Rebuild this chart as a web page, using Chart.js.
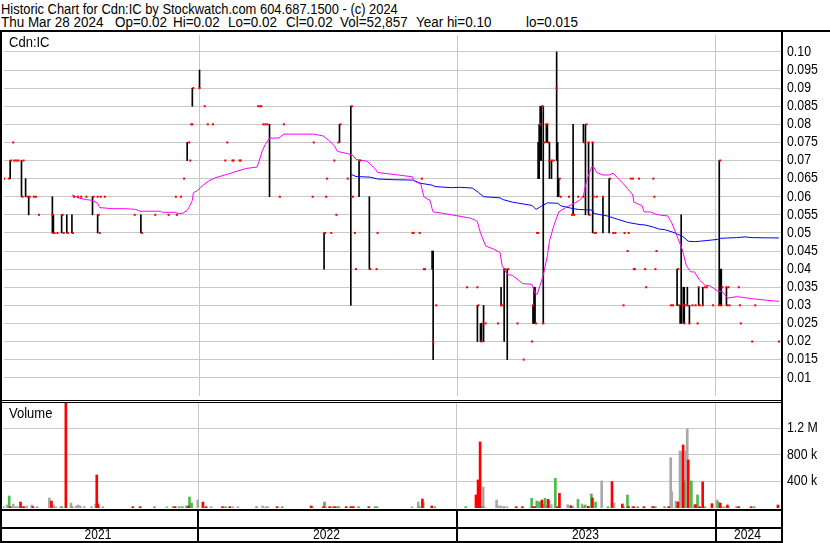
<!DOCTYPE html>
<html>
<head>
<meta charset="utf-8">
<script src="https://cdn.jsdelivr.net/npm/chart.js@4.4.1/dist/chart.umd.min.js"></script>
<style>
  body { margin: 0; background: #fff; }
  #wrap { position: relative; width: 830px; height: 543px; overflow: hidden; font-family: "Liberation Sans", Arial, sans-serif; }
  canvas { position: absolute; left: 0; }
  .txt { position: absolute; font-size: 14px; line-height: 16px; white-space: pre; color: #000; transform: scaleX(0.93); transform-origin: 0 0; }
  .ln { position: absolute; background: #000; }
</style>
</head>
<body>
<div id="wrap">
  <canvas id="price" width="830" height="369" style="top:31px"></canvas>
  <canvas id="volume" width="830" height="140" style="top:403px"></canvas>

  <div class="txt" style="left:1px;top:1px;transform:scaleX(0.922)">Historic Chart for Cdn:IC by Stockwatch.com 604.687.1500 - (c) 2024</div>
  <div class="txt" style="left:1px;top:14px;transform:scaleX(0.96)">Thu Mar 28 2024</div>
  <div class="txt" style="left:115px;top:14px;transform:scaleX(0.96)">Op=0.02</div>
  <div class="txt" style="left:173px;top:14px;transform:scaleX(0.96)">Hi=0.02</div>
  <div class="txt" style="left:228px;top:14px;transform:scaleX(0.96)">Lo=0.02</div>
  <div class="txt" style="left:286px;top:14px;transform:scaleX(0.96)">Cl=0.02</div>
  <div class="txt" style="left:340px;top:14px;transform:scaleX(0.96)">Vol=52,857</div>
  <div class="txt" style="left:416px;top:14px;transform:scaleX(0.96)">Year hi=0.10</div>
  <div class="txt" style="left:526px;top:14px;transform:scaleX(0.96)">lo=0.015</div>
  <div class="txt" style="left:9px;top:34px">Cdn:IC</div>
  <div class="txt" style="left:9px;top:405px">Volume</div>

  <div class="ln" style="left:0;top:30px;width:830px;height:2px"></div>
  <div class="ln" style="left:0;top:30px;width:2px;height:513px"></div>
  <div class="ln" style="left:781px;top:30px;width:2px;height:513px"></div>
  <div class="ln" style="left:0;top:400px;width:782px;height:1px"></div>
  <div class="ln" style="left:0;top:402px;width:782px;height:1px"></div>
</div>
<script>
// x values are trading-day numbers, 0 = first day shown (end of Mar 2021)
var yearStarts = [190, 441, 692];
var yearLabels = ['2021', '2022', '2023', '2024'];
var lastDay = 755;

var priceTicks = [0.10, 0.095, 0.09, 0.085, 0.08, 0.075, 0.07, 0.065, 0.06, 0.055, 0.05, 0.045, 0.04, 0.035, 0.03, 0.025, 0.02, 0.015, 0.01];
var priceTickLabels = ['0.10', '0.095', '0.09', '0.085', '0.08', '0.075', '0.07', '0.065', '0.06', '0.055', '0.05', '0.045', '0.04', '0.035', '0.03', '0.025', '0.02', '0.015', '0.01'];
var volTicks = [1200000, 800000, 400000];
var volTickLabels = ['1.2 M', '800 k', '400 k'];

// [day, low, high]
var hiLo = [
  [6,.065,.07],[17,.06,.07],[21,.06,.065],[24,.055,.06],[47,.05,.06],[48,.05,.055],[56,.05,.055],[61,.05,.055],
  [66,.05,.055],[86,.055,.06],[91,.05,.055],[133,.05,.055],[178,.07,.075],[183,.085,.09],[190,.09,.095],[258,.06,.08],
  [311,.04,.05],[326,.075,.08],[337,.03,.085],[345,.06,.07],[355,.04,.06],[416,.04,.045],[417,.015,.045],[460,.02,.03],
  [463,.02,.025],[464,.02,.025],[466,.02,.03],[483,.03,.035],[486,.02,.04],[489,.015,.04],[514,.025,.03],[515,.025,.035],
  [516,.025,.035],[519,.065,.075],[520,.065,.08],[521,.07,.085],[522,.07,.085],[524,.025,.085],[527,.075,.08],[528,.075,.08],
  [530,.065,.075],[532,.065,.07],[537,.07,.10],[538,.06,.075],[539,.06,.065],[553,.055,.08],[563,.075,.08],[565,.055,.08],
  [568,.055,.075],[572,.05,.075],[582,.05,.06],[588,.05,.065],[654,.03,.04],[657,.025,.03],[658,.025,.055],[660,.025,.035],
  [661,.025,.035],[664,.03,.035],[666,.025,.03],[675,.03,.035],[679,.03,.035],[695,.03,.07],[696,.03,.04],[697,.03,.04],
  [702,.03,.035]
];

// [day, close]
var closes = [
  [0,.065],[5,.065],[7,.07],[9,.075],[10,.07],[12,.07],[14,.07],[18,.06],[19,.07],[23,.06],[25,.06],[29,.06],[31,.06],
  [34,.055],[47,.055],[48,.05],[49,.05],[52,.05],[57,.055],[58,.05],[62,.05],[67,.05],[68,.06],[72,.06],[75,.06],[80,.06],
  [87,.06],[91,.06],[92,.055],[93,.05],[94,.06],[98,.06],[127,.055],[134,.05],[147,.055],[160,.055],[167,.06],[168,.055],
  [172,.06],[175,.065],[180,.075],[181,.07],[182,.08],[183,.08],[184,.09],[190,.09],[195,.085],[198,.08],[203,.08],
  [215,.07],[217,.075],[222,.07],[223,.07],[229,.07],[230,.07],[247,.085],[249,.085],[250,.085],[252,.08],[254,.08],
  [256,.08],[268,.06],[272,.08],[300,.06],[301,.075],[312,.05],[313,.06],[314,.065],[318,.05],[321,.07],[323,.055],
  [325,.075],[327,.08],[334,.065],[338,.085],[339,.06],[341,.05],[342,.04],[346,.07],[356,.04],[362,.04],[363,.05],
  [397,.05],[398,.05],[404,.05],[406,.065],[408,.04],[409,.04],[417,.02],[420,.03],[450,.035],[460,.035],[461,.03],
  [464,.02],[465,.025],[468,.025],[480,.025],[483,.03],[485,.03],[487,.04],[490,.04],[499,.025],[505,.015],[513,.02],
  [514,.03],[517,.025],[518,.05],[519,.05],[521,.08],[523,.085],[524,.025],[525,.075],[527,.08],[528,.08],[529,.075],
  [530,.07],[532,.07],[534,.07],[537,.09],[540,.065],[541,.06],[549,.06],[552,.055],[554,.055],[558,.06],[563,.06],
  [564,.075],[566,.08],[568,.075],[569,.055],[572,.075],[573,.06],[574,.05],[575,.05],[576,.06],[582,.06],[589,.065],
  [592,.05],[594,.05],[602,.03],[603,.05],[606,.045],[607,.05],[609,.065],[611,.065],[612,.04],[613,.04],[617,.065],
  [623,.04],[624,.035],[631,.065],[632,.06],[633,.04],[634,.045],[648,.03],[650,.03],[655,.04],[656,.03],[660,.03],
  [661,.025],[662,.03],[664,.03],[666,.025],[669,.03],[672,.03],[674,.025],[675,.035],[676,.03],[679,.03],[681,.035],
  [683,.035],[689,.03],[695,.03],[696,.07],[697,.03],[698,.035],[702,.035],[703,.03],[704,.035],[705,.03],[714,.035],
  [715,.03],[716,.025],[727,.02],[730,.03],[753,.02]
];

// moving averages [day, value]
var maFast = [
  [66,.0605],[73,.0596],[80,.0592],[86,.059],[91,.0582],[93,.057],[105,.0567],[118,.0567],[128,.0565],[132,.056],
  [152,.056],[154,.0557],[167,.0557],[169,.0553],[174,.0555],[178,.0562],[180,.0572],[183,.059],[184,.0611],[188,.0617],
  [191,.0626],[199,.0644],[206,.0653],[217,.0662],[227,.0671],[235,.0678],[246,.0682],[247,.069],[251,.0727],[254,.0745],
  [258,.0762],[267,.0762],[272,.0773],[301,.0773],[310,.0768],[315,.0757],[321,.0741],[324,.0725],[334,.0719],[339,.0714],
  [342,.0703],[353,.0698],[361,.0676],[363,.0667],[383,.066],[397,.0655],[398,.0644],[405,.0635],[408,.06],[414,.059],
  [416,.0567],[417,.0558],[427,.0554],[441,.0547],[453,.0541],[458,.0535],[460,.0531],[463,.05],[468,.0464],[476,.0455],
  [482,.0446],[484,.041],[489,.0385],[494,.0383],[504,.036],[513,.0358],[516,.0333],[518,.033],[521,.0356],[524,.0383],
  [528,.0437],[530,.0477],[534,.0518],[539,.0558],[547,.0572],[555,.0583],[560,.0592],[563,.0603],[566,.0644],[571,.0682],
  [573,.0682],[576,.0667],[582,.066],[588,.066],[592,.0665],[596,.0653],[602,.0635],[606,.0622],[611,.0605],[612,.0585],
  [620,.0575],[622,.0558],[628,.0558],[633,.0552],[638,.0549],[645,.0547],[649,.0527],[654,.0491],[659,.0455],[663,.041],
  [667,.0393],[671,.0392],[676,.0369],[681,.0356],[686,.0354],[693,.034],[698,.0338],[703,.032],[712,.0324],[718,.0322],
  [728,.0318],[741,.0314],[753,.0311]
];
var maSlow = [
  [337,.0662],[342,.0656],[356,.0654],[363,.0649],[378,.0647],[397,.0646],[405,.0637],[416,.0632],[419,.0628],[435,.0625],
  [443,.0626],[455,.0624],[461,.0612],[466,.06],[482,.0597],[485,.0592],[494,.0585],[513,.0576],[517,.0565],[521,.0572],
  [528,.0583],[538,.0582],[541,.0575],[553,.0567],[558,.0565],[572,.0563],[573,.0554],[586,.0547],[596,.0538],[606,.0529],
  [618,.0523],[623,.0522],[631,.0516],[636,.0511],[642,.0509],[650,.0502],[659,.0491],[665,.0477],[671,.0476],[676,.0477],
  [683,.0479],[693,.0482],[696,.0485],[703,.0486],[712,.0487],[720,.0489],[727,.0487],[753,.0486]
];

// volume [day, shares]
var volDown = [
  [7,20000],[17,90000],[20,20000],[29,20000],[47,105000],[61,1700000],[91,497000],[92,60000],[126,20000],[133,20000],
  [167,20000],[180,30000],[194,90000],[197,20000],[213,20000],[220,20000],[266,20000],[299,30000],[311,20000],[317,20000],
  [322,20000],[333,20000],[338,20000],[340,20000],[355,20000],[407,135000],[416,30000],[459,196000],[461,422000],[463,994000],
  [498,20000],[504,20000],[514,20000],[516,20000],[523,120000],[529,130000],[538,20000],[540,221000],[551,35000],[568,25000],
  [572,150000],[591,397000],[601,60000],[607,20000],[612,20000],[622,20000],[631,20000],[646,20000],[655,90000],[660,949000],
  [665,723000],[672,50000],[676,20000],[679,392000],[688,65000],[696,75000],[703,45000],[714,20000],[726,20000],[752,45000]
];
var volUp = [
  [0,20000],[6,181000],[57,20000],[67,20000],[93,20000],[147,20000],[165,20000],[171,20000],[174,20000],[178,30000],
  [181,166000],[183,75000],[216,20000],[246,20000],[271,20000],[300,20000],[312,90000],[320,20000],[324,20000],[326,20000],
  [345,20000],[361,20000],[363,20000],[404,20000],[419,20000],[449,20000],[465,20000],[486,20000],[513,146000],[518,105000],
  [521,95000],[524,55000],[526,146000],[536,447000],[558,130000],[563,20000],[565,45000],[571,211000],[575,90000],[587,20000],
  [602,20000],[606,196000],[616,20000],[630,20000],[633,20000],[642,20000],[654,20000],[661,407000],[668,407000],[674,196000],
  [681,20000],[694,90000],[697,20000],[712,20000],[729,20000]
];
var volFlat = [
  [4,45000],[10,60000],[12,20000],[14,20000],[19,20000],[23,30000],[28,45000],[33,20000],[45,150000],[49,45000],
  [51,20000],[56,20000],[66,75000],[71,30000],[73,45000],[75,30000],[79,20000],[86,20000],[90,60000],[97,20000],
  [159,20000],[189,120000],[202,20000],[223,20000],[228,20000],[252,30000],[255,20000],[257,20000],[313,20000],[337,20000],
  [397,20000],[403,90000],[408,90000],[466,316000],[467,20000],[479,120000],[481,30000],[483,30000],[489,20000],[519,85000],
  [527,40000],[530,105000],[532,50000],[548,50000],[553,25000],[562,60000],[581,407000],[593,75000],[611,20000],[648,758000],
  [649,246000],[653,100000],[657,859000],[658,834000],[663,859000],[664,1190000],[671,50000],[693,120000],[700,20000],[704,20000]
];

var FONT = '14px "Liberation Sans", Arial, sans-serif';

function pts(arr) {
    return arr.map(function (p) { return { x: p[0], y: p[1] }; });
}

function drawText(ctx, s, x, y, align, sx) {
    ctx.save();
    ctx.translate(x, y);
    ctx.scale(sx || 0.88, 1);
    ctx.textAlign = align || 'left';
    ctx.fillText(s, 0, 0);
    ctx.restore();
}

// right hand axis labels, placed with the chart's own y scale
var sideLabels = {
    id: 'sideLabels',
    afterDraw: function (chart, args, opts) {
        var ctx = chart.ctx, y = chart.scales.y, a = chart.chartArea;
        ctx.save();
        ctx.font = FONT;
        ctx.fillStyle = '#000';
        ctx.textBaseline = 'middle';
        opts.values.forEach(function (v, i) {
            drawText(ctx, opts.labels[i], a.right + 6, y.getPixelForValue(v));
        });
        ctx.restore();
    }
};

// year band under the volume panel
var yearBand = {
    id: 'yearBand',
    afterDraw: function (chart) {
        var ctx = chart.ctx, x = chart.scales.x, a = chart.chartArea;
        ctx.save();
        ctx.fillStyle = '#000';
        ctx.fillRect(0, a.bottom + 1, a.right + 1, 2);
        ctx.fillRect(0, a.bottom + 19, a.right + 1, 2);
        ctx.fillRect(0, a.bottom + 33, a.right + 1, 2);
        var edges = [0];
        yearStarts.forEach(function (s) {
            var px = Math.round(x.getPixelForValue(s - 0.5));
            ctx.fillRect(px - 1, a.bottom + 1, 2, 34);
            edges.push(px);
        });
        edges.push(a.right);
        ctx.font = FONT;
        ctx.textBaseline = 'middle';
        yearLabels.forEach(function (lab, i) {
            drawText(ctx, lab, (edges[i] + edges[i + 1]) / 2 - 1, a.bottom + 27, 'center', 0.86);
        });
        ctx.restore();
    }
};

function xAxis() {
    return {
        type: 'linear', min: 0, max: lastDay, offset: false,
        ticks: { display: false },
        border: { display: false },
        grid: { color: '#c8c8c8', drawTicks: false, offset: false },
        afterBuildTicks: function (s) { s.ticks = yearStarts.map(function (v) { return { value: v - 0.5 }; }); }
    };
}

var priceChart = new Chart(document.getElementById('price'), {
    type: 'bar',
    data: {
        datasets: [{
            type: 'scatter',
            data: pts(closes),
            pointStyle: 'rect',
            pointRadius: 1.45,
            pointBorderWidth: 0,
            backgroundColor: '#ff0000'
        }, {
            type: 'line',
            data: pts(maFast),
            borderColor: '#ff00ff',
            borderWidth: 1,
            pointRadius: 0,
            tension: 0
        }, {
            type: 'line',
            data: pts(maSlow),
            borderColor: '#0000ff',
            borderWidth: 1,
            pointRadius: 0,
            tension: 0
        }, {
            type: 'bar',
            data: hiLo.map(function (p) { return { x: p[0], y: [p[1], p[2]] }; }),
            backgroundColor: '#000000',
            barThickness: 1,
            grouped: false
        }]
    },
    options: {
        responsive: false,
        animation: false,
        events: [],
        layout: { padding: { left: 3, right: 49, top: 0, bottom: 0 } },
        plugins: {
            legend: { display: false },
            tooltip: { enabled: false },
            sideLabels: { values: priceTicks, labels: priceTickLabels }
        },
        scales: {
            x: xAxis(),
            y: {
                position: 'right', min: 0.00495, max: 0.10468,
                ticks: { display: false },
                border: { display: false },
                grid: { color: '#c8c8c8', drawTicks: false },
                afterBuildTicks: function (s) { s.ticks = priceTicks.map(function (v) { return { value: v }; }); }
            }
        }
    },
    plugins: [sideLabels]
});

var volumeChart = new Chart(document.getElementById('volume'), {
    type: 'bar',
    data: {
        datasets: [{
            data: pts(volDown), backgroundColor: '#ff0000', barThickness: 2, grouped: false
        }, {
            data: pts(volUp), backgroundColor: '#4cbb4c', barThickness: 2, grouped: false
        }, {
            data: pts(volFlat), backgroundColor: '#a8a8a8', barThickness: 2, grouped: false
        }]
    },
    options: {
        responsive: false,
        animation: false,
        events: [],
        layout: { padding: { left: 3, right: 49, top: 0, bottom: 35 } },
        plugins: {
            legend: { display: false },
            tooltip: { enabled: false },
            sideLabels: { values: volTicks, labels: volTickLabels }
        },
        scales: {
            x: xAxis(),
            y: {
                position: 'right', min: 0, max: 1580000,
                ticks: { display: false },
                border: { display: false },
                grid: { color: '#c8c8c8', drawTicks: false },
                afterBuildTicks: function (s) { s.ticks = volTicks.map(function (v) { return { value: v }; }); }
            }
        }
    },
    plugins: [sideLabels, yearBand]
});
</script>
</body>
</html>
